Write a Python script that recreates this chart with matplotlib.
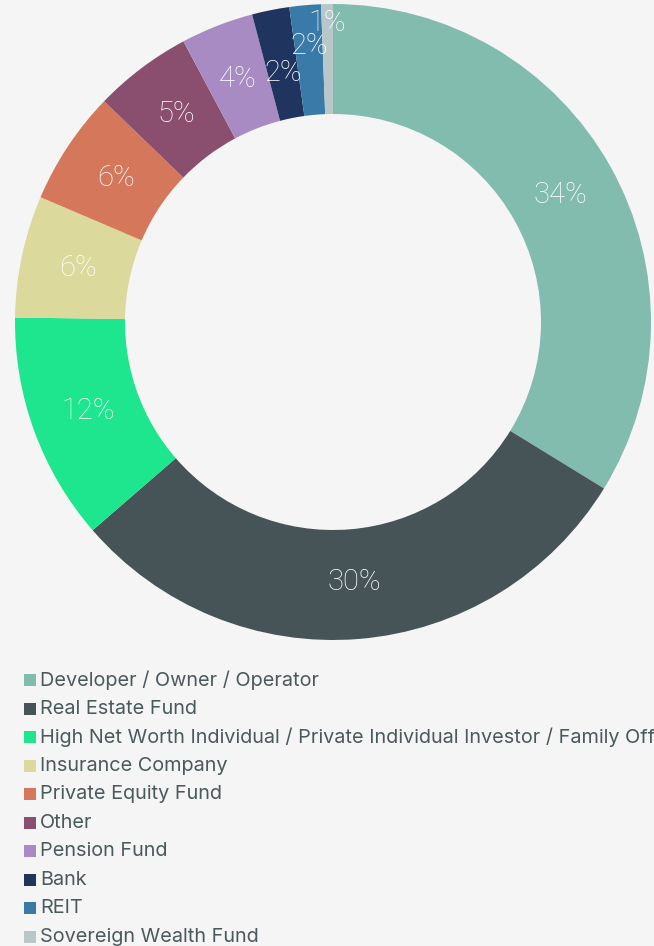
import matplotlib.pyplot as plt
from matplotlib.patches import Rectangle
import numpy as np

# Investor type breakdown (share of total, %)
categories = [
    "Developer / Owner / Operator",
    "Real Estate Fund",
    "High Net Worth Individual / Private Individual Investor / Family Office",
    "Insurance Company",
    "Private Equity Fund",
    "Other",
    "Pension Fund",
    "Bank",
    "REIT",
    "Sovereign Wealth Fund",
]
shares = [33.8, 29.9, 11.6, 6.2, 5.8, 5.0, 3.7, 1.9, 1.6, 0.6]
colors = [
    "#82bcae", "#465457", "#1de68e", "#dcd99c", "#d4775a",
    "#8a4f6f", "#a98bc4", "#1f3560", "#3a7aa8", "#b8c8c9",
]
# radial position of each percentage label (small slices pushed outward)
label_radius = [0.82, 0.82, 0.82, 0.82, 0.82, 0.82, 0.82, 0.80, 0.87, 0.94]

BG = "#f5f5f5"
TEXT = "#4a5a5c"
W, H = 654, 946

fig = plt.figure(figsize=(W / 100, H / 100), dpi=100, facecolor=BG)

cx, cy, r = 333, 322, 318
ax = fig.add_axes([(cx - r) / W, (H - cy - r) / H, 2 * r / W, 2 * r / H])
ax.set_facecolor(BG)
wedges, _ = ax.pie(
    shares, colors=colors, startangle=90, counterclock=False,
    radius=1.0, wedgeprops=dict(width=110 / 318, linewidth=0),
)
ax.set_xlim(-1, 1)
ax.set_ylim(-1, 1)
ax.set_aspect("equal")
ax.axis("off")

total = sum(shares)
start = 0.0
for v, lr in zip(shares, label_radius):
    mid = start + v / 2
    ang = np.deg2rad(90 - 360 * mid / total)
    ax.text(lr * np.cos(ang), lr * np.sin(ang), f"{round(v)}%",
            ha="center", va="center", color="white", fontsize=21,
            family="Roboto", fontweight="light")
    start += v

# legend drawn row by row in pixel coordinates
y0, step = 680, 28.5
for i, (name, c) in enumerate(zip(categories, colors)):
    y = y0 + i * step
    fig.patches.append(Rectangle((24 / W, (H - y - 6) / H), 12 / W, 12 / H,
                                 transform=fig.transFigure, facecolor=c,
                                 edgecolor="none"))
    fig.text(40 / W, (H - y) / H, name, ha="left", va="center",
             color=TEXT, fontsize=14.3, family="Inter")

fig.savefig("out.png", dpi=100, facecolor=BG)
